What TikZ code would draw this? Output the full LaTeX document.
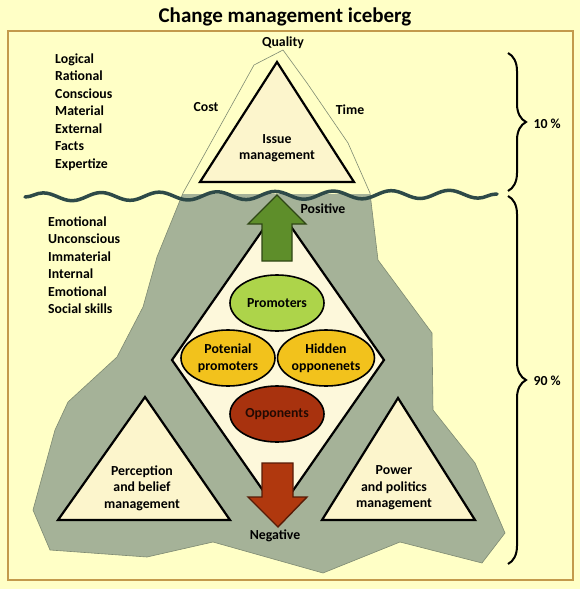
\documentclass[tikz,border=0pt]{standalone}
\usepackage{fontspec}
\setmainfont{Carlito}
\usetikzlibrary{shapes.geometric,decorations.pathmorphing,decorations.pathreplacing}

\definecolor{paper}{HTML}{FFFFC6}
\definecolor{frame}{HTML}{C39A4C}
\definecolor{ice}{HTML}{A5B298}
\definecolor{iceline}{HTML}{7E8A72}
\definecolor{sea}{HTML}{2E4A48}
\definecolor{cream}{HTML}{FCF5CC}
\definecolor{promo}{HTML}{ADD44A}
\definecolor{gold}{HTML}{F2C21C}
\definecolor{opp}{HTML}{A8320E}
\definecolor{upgreen}{HTML}{5E8E2A}
\definecolor{downred}{HTML}{B0380E}

\begin{document}
\begin{tikzpicture}[x=1pt,y=-1pt,font=\bfseries\fontsize{13.8}{16.5}\selectfont,
  tri/.style={draw=black,line width=2.2pt,fill=cream,line join=miter},
  grp/.style={ellipse,draw=black,line width=1.6pt,minimum width=94pt,minimum height=56pt,inner sep=0pt,align=center},
  lst/.style={anchor=base west,inner sep=0pt},
  brc/.style={decorate,decoration={brace,amplitude=18pt},line width=2pt}]
\useasboundingbox[fill=paper] (0,0) rectangle (580,589);
\draw[frame,line width=2pt] (8,31) rectangle (573,580);
\node[font=\bfseries\fontsize{21}{24}\selectfont] (title) at (285,17) {Change management iceberg};
% iceberg
\def\berg{(283,50) -- (307,83) -- (348,143) -- (370,193) -- (378,260) -- (432,333) -- (433,410)
  -- (475,463) -- (505,533) -- (482,563) -- (400,542) -- (323,573) -- (213,542) -- (147,557)
  -- (50,550) -- (33,510) -- (55,430) -- (68,402) -- (117,357) -- (143,307) -- (157,257)
  -- (183,193) -- (254,65) -- cycle}
\begin{scope}
  \clip (0,194) rectangle (580,589);
  \fill[ice] \berg;
\end{scope}
\draw[iceline,line width=0.6pt] \berg;
% tip of the iceberg
\coordinate (ia) at (277,62);
\coordinate (il) at (200,182);
\coordinate (ir) at (354,182);
\draw[tri] (ia) -- (il) -- (ir) -- cycle;
\node (issue) at (277,148) [align=center] {Issue\\management};
\node (quality) at (283,43) {Quality};
\node (cost) at (206,107) {Cost};
\node (time) at (350,110) {Time};
% water line
\draw[sea,line width=3.5pt,line cap=round,decorate,decoration={snake,amplitude=4pt,segment length=58pt}]
  (25,197) -- (497,194);
% left lists
\foreach \w [count=\i] in {Logical,Rational,Conscious,Material,External,Facts,Expertize}
  \node[lst] (up\i) at (55,{63+17.5*(\i-1)}) {\w};
\foreach \w [count=\i] in {Emotional,Unconscious,Immaterial,Internal,Emotional,Social skills}
  \node[lst] (dn\i) at (48,{226+17.5*(\i-1)}) {\w};
% stakeholders
\coordinate (dt) at (278,208);
\coordinate (dl) at (172,360);
\coordinate (db) at (278,512);
\coordinate (dr) at (384,360);
\draw[tri,fill=cream!70!white] (dt) -- (dl) -- (db) -- (dr) -- cycle;
\filldraw[upgreen,draw=upgreen!50!black,line width=1.4pt,line join=miter]
  (277,195) -- (306,224) -- (292,224) -- (292,261) -- (262,261) -- (262,224) -- (248,224) -- cycle;
\filldraw[downred,draw=downred!50!black,line width=1.4pt,line join=miter]
  (262,463) -- (293,463) -- (293,497) -- (307,497) -- (278,527) -- (248,497) -- (262,497) -- cycle;
\node (pos) at (323,209) {Positive};
\node (neg) at (275,536) {Negative};
\node[grp,fill=promo] (pro) at (277,303) {Promoters};
\node[grp,fill=gold] (pot) at (228,358) {Potenial\\promoters};
\node[grp,fill=gold] (hid) at (326,358) {Hidden\\opponenets};
\node[grp,fill=opp,text=black!80!opp] (opn) at (277,414) {Opponents};
% lower triangles
\coordinate (pa) at (145,397);
\coordinate (pl) at (58,520);
\coordinate (pr) at (230,520);
\draw[tri] (pa) -- (pl) -- (pr) -- cycle;
\node (perc) at (142,488) [align=center] {Perception\\and belief\\management};
\coordinate (wa) at (398,398);
\coordinate (wl) at (322,520);
\coordinate (wr) at (475,520);
\draw[tri] (wa) -- (wl) -- (wr) -- cycle;
\node (pow) at (394,488) [align=center] {Power\\and politics\\management};
% braces
\draw[brc] (508,53) -- (508,191);
\draw[brc] (508,196) -- (508,564);
\node[anchor=west] (ten) at (530,124) {10 \%};
\node[anchor=west] (ninety) at (530,381) {90 \%};
\end{tikzpicture}
\end{document}
